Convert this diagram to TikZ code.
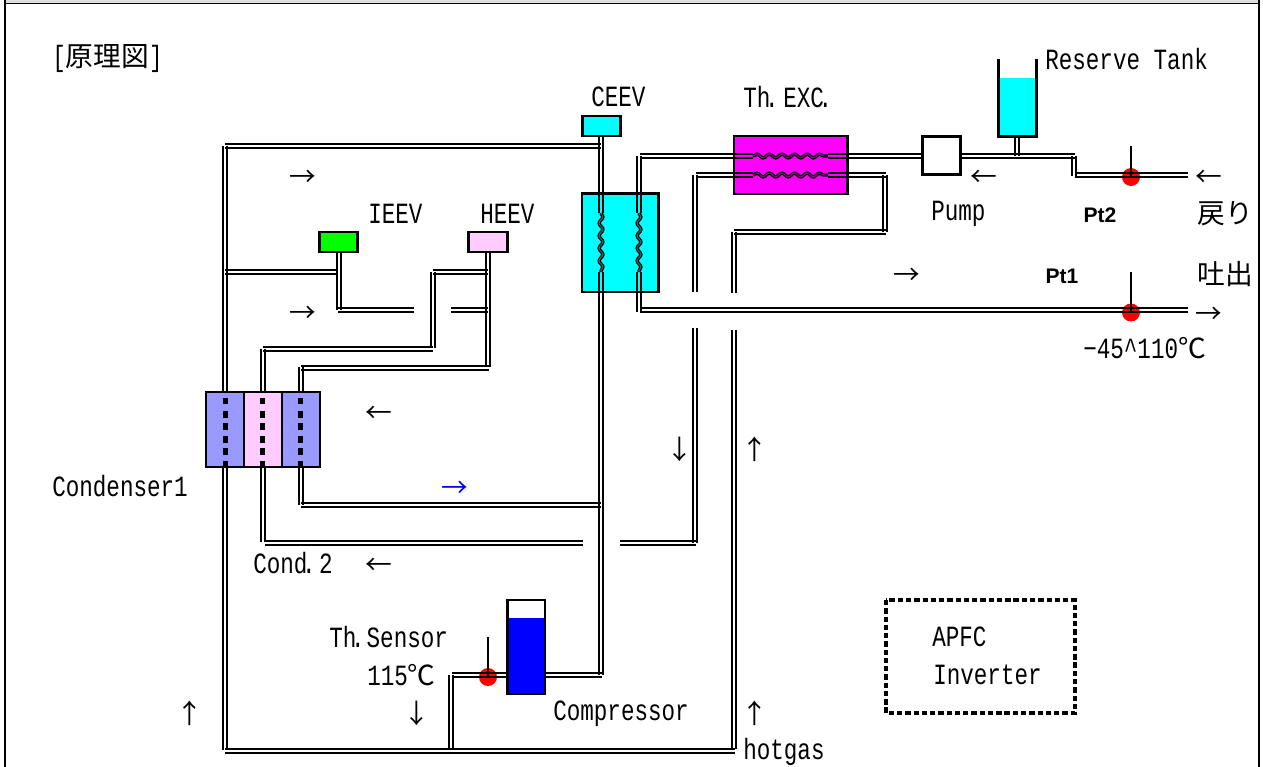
\documentclass[tikz,border=0pt]{standalone}
\usepackage{fontspec}
\usetikzlibrary{decorations.pathmorphing}
\setmainfont{Liberation Sans}
\newfontfamily\gothic[FakeStretch=0.77]{Liberation Mono}
\newfontfamily\jpfont{Noto Sans CJK JP}
\newcommand{\jp}[1]{{\jpfont\fontsize{20.8}{24}\selectfont #1}}
\newcommand{\dotsp}{\kern-4pt.\kern-4pt{ }\kern-6pt}
\newcommand{\hpipe}[3]{\draw[pipeline] (#1,#3-2.1) -- (#2,#3-2.1) (#1,#3+2.1) -- (#2,#3+2.1);}
\newcommand{\vpipe}[3]{\draw[pipeline] (#1-2.1,#2) -- (#1-2.1,#3) (#1+2.1,#2) -- (#1+2.1,#3);}
\definecolor{lilac}{HTML}{9999FF}
\definecolor{pinkish}{HTML}{FFCCFF}
\definecolor{aqua}{HTML}{00FFFF}
\definecolor{fuchsia}{HTML}{FF00FF}
\definecolor{pureblue}{HTML}{0000FF}
\definecolor{purered}{HTML}{FF0000}
\definecolor{puregreen}{HTML}{00FF00}
\tikzset{
  x=0.75pt,y=-0.75pt,
  pipeline/.style={draw=black,line width=1.3pt},
  valve/.style={draw=black,line width=2.2pt},
  vessel/.style={draw=black,line width=1.6pt},
  wavy/.style={decorate,decoration={snake,amplitude=1.4pt,segment length=9.4pt},draw=black,line width=0.95pt,double=#1,double distance=0.7pt},
  lbl/.style={font=\gothic\fontsize{22}{26}\selectfont,anchor=west,inner sep=0pt,text=black},
  arw/.style={font=\jpfont\fontsize{20}{24}\selectfont,inner sep=0pt,text=black},
  harw/.style={arw,yshift=-2.25pt},
  bold/.style={font=\bfseries\fontsize{15.8}{18}\selectfont,inner sep=0pt},
  probe/.style={fill=purered,draw=none,circle,minimum size=13.5pt,inner sep=0pt},
  stick/.style={draw=black,line width=1.3pt},
}
\begin{document}
\begin{tikzpicture}
\useasboundingbox (0,0) rectangle (1263,767);
% frame
\fill[black!13] (5,0) rectangle (1259,3);
\draw[line width=1.6pt] (5,767) -- (5,0);
\draw[line width=1pt] (5,3.2) -- (1259,3.2);
\draw[line width=1.6pt] (1259,0) -- (1259,767);
% filled boxes
\node[valve,fill=aqua,minimum width=29pt,minimum height=15pt,inner sep=0pt] (ceev) at (601.5,126) {};
\node[valve,fill=puregreen,minimum width=29pt,minimum height=15pt,inner sep=0pt] (ieev) at (338.5,242) {};
\node[valve,fill=pinkish,minimum width=29pt,minimum height=15pt,inner sep=0pt] (heev) at (488,242) {};
\draw[vessel,fill=aqua] (582,193.5) rectangle (658.5,292);
\draw[vessel,fill=fuchsia] (734,136) rectangle (847.5,194);
\node[valve,fill=white,minimum width=29pt,minimum height=29pt,inner sep=0pt] (pump) at (941.5,155.5) {};
% tank
\fill[aqua] (1000,78) rectangle (1035,135);
\draw[line width=2.2pt] (998.5,59) -- (998.5,136.5) -- (1036.5,136.5) -- (1036.5,59);
% condenser
\fill[lilac] (206,392) rectangle (244,467);
\fill[pinkish] (244,392) rectangle (282,467);
\fill[lilac] (282,392) rectangle (320,467);
\draw[vessel] (206,392) rectangle (320,467) (244,392) -- (244,467) (282,392) -- (282,467);
\foreach \xx in {225.7,262.3,300.7}
  \foreach \yy in {401,414.5,426.7,439.3,451.7,464}
    \fill (\xx-2.5,\yy-3.3) rectangle (\xx+2.5,\yy+3.3);
% compressor
\fill[pureblue] (507,618) rectangle (545,694);
\draw[line width=2.2pt] (507.5,600) rectangle (545,694);
% probes
\node[probe] (pt2) at (1131,177) {};
\node[probe] (pt1) at (1131,312.5) {};
\node[probe] (ths) at (488,677) {};
\draw[stick] (1131,146) -- (pt2.center);
\draw[stick] (1131,272) -- (pt1.center);
\draw[stick] (488,637) -- (ths.center);
% refrigerant pipes
\hpipe{225}{601}{146}
\vpipe{225}{146}{392}
\vpipe{225}{467}{750}
\hpipe{225}{735}{751}
\vpipe{734}{330}{749}
\vpipe{734}{232}{292.5}
\hpipe{734}{886}{232}
\vpipe{885}{175}{232}
\hpipe{828}{886}{175}
\hpipe{696}{753}{175}
\vpipe{695}{175}{292}
\vpipe{695}{328}{543}
\hpipe{620}{696}{543}
\hpipe{265}{583}{543}
\vpipe{263}{467}{542}
\vpipe{601}{136}{213}
\vpipe{601}{272}{675}
\hpipe{545}{602}{675}
\vpipe{639}{156}{213}
\vpipe{639}{272}{312}
\hpipe{640}{753}{156}
\hpipe{828}{922}{156}
\hpipe{961}{1075}{156}
\vpipe{1074}{156}{176}
\hpipe{1075}{1188}{175}
\hpipe{640}{1188}{310}
\vpipe{1017}{137}{156}
\hpipe{225}{338}{272}
\vpipe{339}{252}{310}
\hpipe{338}{414}{310}
\hpipe{451}{488}{310}
\vpipe{488}{252}{367}
\hpipe{433}{488}{272}
\vpipe{433}{272}{348}
\hpipe{263}{433}{349}
\vpipe{263}{349}{392}
\hpipe{301}{489}{368}
\vpipe{301}{367}{392}
\vpipe{301}{467}{505}
\hpipe{301}{601}{505}
\hpipe{452}{507}{675}
\vpipe{451}{675}{750}
% coils
\draw[wavy=fuchsia!60!black] (753,156) -- (828,156);
\draw[wavy=fuchsia!60!black] (753,175) -- (828,175);
\draw[wavy=aqua!50!black] (601,213) -- (601,272);
\draw[wavy=aqua!50!black] (639,213) -- (639,272);
% apfc
\draw[line width=2.8pt,dash pattern=on 4pt off 2.2pt] (886,600) rectangle (1075,713);
% labels
\node[lbl] (title) at (52,59) {[\jp{原理図}]};
\node[lbl] (lceev) at (591,97) {CEEV};
\node[lbl] (lthx) at (743,97) {Th\dotsp EXC\kern-4pt.};
\node[lbl] (ltank) at (1045,59) {Reserve Tank};
\node[lbl] (lieev) at (368,214) {IEEV};
\node[lbl] (lheev) at (480,214) {HEEV};
\node[lbl] (lpump) at (931,214) {Pump};
\node[lbl] (lback) at (1197,214) {\jp{戻り}};
\node[lbl] (lout) at (1197,274) {\jp{吐出}};
\node[lbl] (lrange) at (1083,348) {−45\textasciicircum110\jp{℃}};
\node[bold] (lpt2) at (1100,215) {Pt2};
\node[bold] (lpt1) at (1062,276) {Pt1};
\node[lbl] (lcond) at (52,486) {Condenser1};
\node[lbl] (lcond2) at (253,563) {Cond\dotsp\kern-1pt 2};
\node[lbl] (lsens) at (329,637) {Th\dotsp\kern-2pt Sensor};
\node[lbl] (ltemp) at (367,675) {115\jp{℃}};
\node[lbl] (lcomp) at (553,714) {Compressor};
\node[lbl] (lapfc) at (932,637) {APFC};
\node[lbl] (linv) at (933,675) {Inverter};
\node[lbl] (lhot) at (743,752) {hotgas};
% flow arrows
\node[harw] (a1) at (303,175) {→};
\node[harw] (a2) at (303,311) {→};
\node[harw] (a3) at (379,411) {←};
\node[harw,text=pureblue] (a4) at (455,486) {→};
\node[arw] (a5) at (680,449) {↓};
\node[arw] (a6) at (755,449) {↑};
\node[harw] (a7) at (379,563) {←};
\node[arw] (a8) at (190,713) {↑};
\node[arw] (a9) at (417,713) {↓};
\node[arw] (a10) at (755,713) {↑};
\node[harw] (a11) at (984,175) {←};
\node[harw] (a12) at (1209,175) {←};
\node[harw] (a13) at (1209,312) {→};
\node[harw] (a14) at (907,273) {→};
\end{tikzpicture}
\end{document}
